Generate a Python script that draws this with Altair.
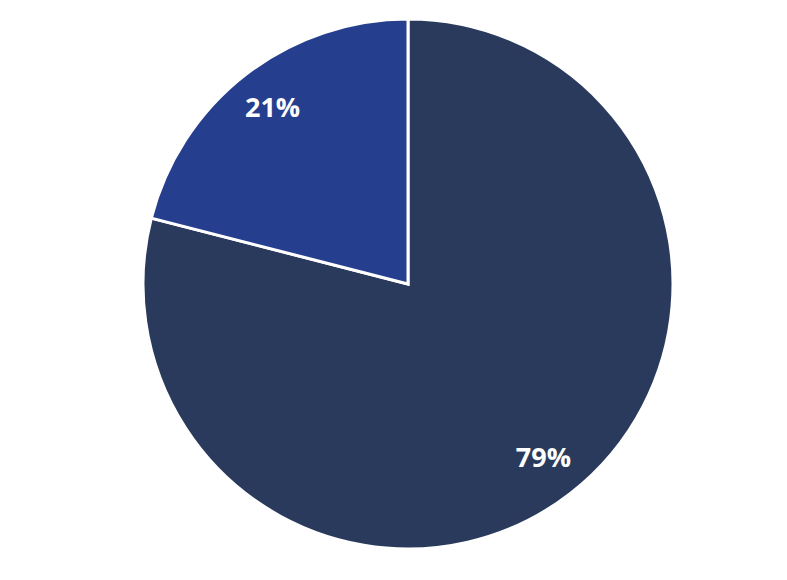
import altair as alt
import pandas as pd

categories = ["A", "B"]
values = [79, 21]
labels = ["79%", "21%"]
colors = ["#2a3a5c", "#253e8e"]

df = pd.DataFrame({"cat": categories, "value": values, "label": labels, "ord": [0, 1]})

base = alt.Chart(df).encode(
    theta=alt.Theta("value:Q", stack=True),
    order=alt.Order("ord:Q"),
    x=alt.value(400),
    y=alt.value(276),
)

pie = base.mark_arc(radius=265, stroke="white", strokeWidth=3).encode(
    color=alt.Color("cat:N", scale=alt.Scale(domain=categories, range=colors), legend=None)
)

text = base.mark_text(radius=221, font="Open Sans", fontSize=27, fontWeight="bold", color="white").encode(
    text="label:N"
)

chart = (pie + text).properties(
    width=771, height=556, padding=0, autosize="none"
).configure_view(stroke=None)

chart.save("out.html", embed_options={"renderer": "svg", "actions": False})
